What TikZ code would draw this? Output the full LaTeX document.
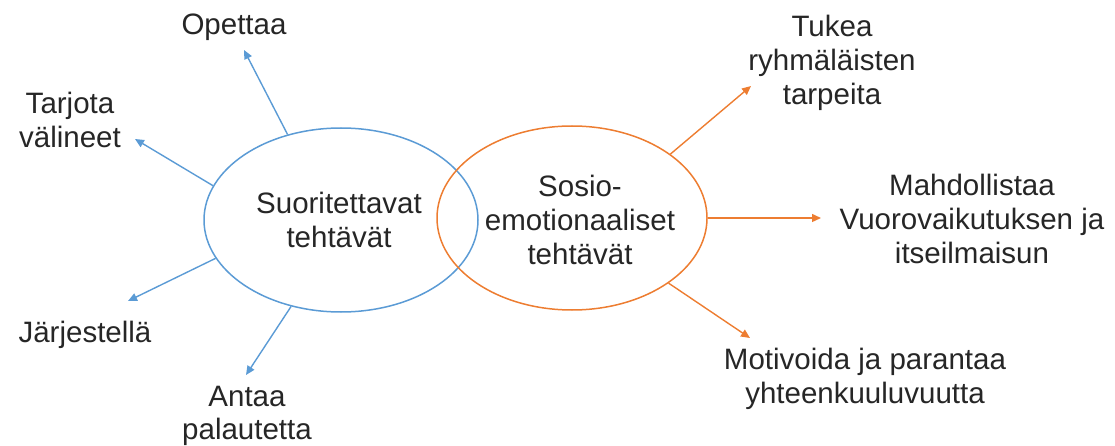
\documentclass[tikz,border=0pt]{standalone}
\usepackage{fontspec}
\setmainfont{Liberation Sans}
\usetikzlibrary{shapes.geometric,arrows.meta}
\definecolor{myblue}{HTML}{5B9BD5}
\definecolor{myorange}{HTML}{ED7D31}
\definecolor{mytext}{HTML}{262626}
\begin{document}
\begin{tikzpicture}[x=1pt,y=-1pt,
  lbl/.style={align=center,text=mytext,font=\fontsize{29.5}{33.8}\selectfont,inner sep=0pt},
  oval/.style={ellipse,draw,line width=1.5pt,inner sep=0pt},
  barrow/.style={draw=myblue,line width=1.4pt,-{Triangle[length=9pt,width=8pt]}},
  oarrow/.style={draw=myorange,line width=1.4pt,-{Triangle[length=9pt,width=8pt]}}]
\useasboundingbox (0,0) rectangle (1115,446);
\node[oval,draw=myblue,minimum width=274pt,minimum height=184pt] (blue) at (341,220) {};
\node[oval,draw=myorange,minimum width=270pt,minimum height=184pt] (orange) at (572,218) {};
\node[lbl] (suor) at (339,220) {Suoritettavat\\tehtävät};
\node[lbl] (sosio) at (580,220) {Sosio-\\emotionaaliset\\tehtävät};
\node[lbl] (opettaa) at (234,27) {Opettaa};
\node[lbl] (tarjota) at (70,120) {Tarjota\\välineet};
\node[lbl] (jarj) at (85,335) {Järjestellä};
\node[lbl] (antaa) at (247,416) {Antaa\\palautetta};
\node[lbl] (tukea) at (832,63) {Tukea\\ryhmäläisten\\tarpeita};
\node[lbl] (mahd) at (972,219) {Mahdollistaa\\Vuorovaikutuksen ja\\itseilmaisun};
\node[lbl] (motiv) at (865,379) {Motivoida ja parantaa\\yhteenkuuluvuutta};
\coordinate (e1) at (244,50);
\coordinate (e2) at (135,139);
\coordinate (e3) at (128,301);
\coordinate (e4) at (246,375);
\coordinate (e5) at (751,86);
\coordinate (e6) at (821,218);
\coordinate (e7) at (750,338);
\draw[barrow] (blue.122.7) -- (e1);
\draw[barrow] (blue.165.6) -- (e2);
\draw[barrow] (blue.197.6) -- (e3);
\draw[barrow] (blue.240.6) -- (e4);
\draw[oarrow] (orange.33.8) -- (e5);
\draw[oarrow] (orange.0) -- (e6);
\draw[oarrow] (orange.-34.9) -- (e7);
\end{tikzpicture}
\end{document}
